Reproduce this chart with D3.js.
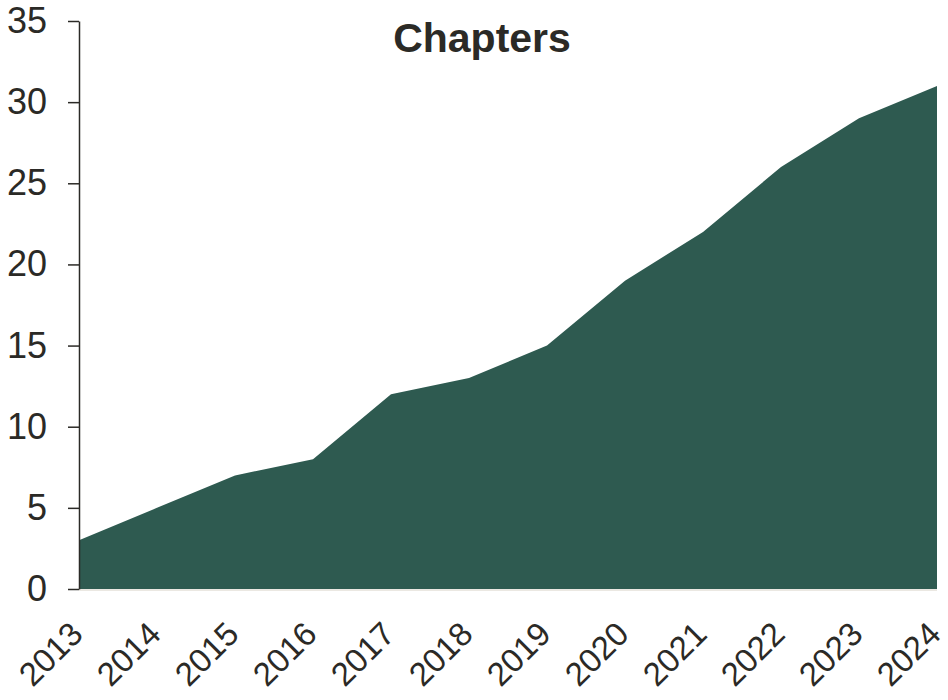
<!DOCTYPE html>
<html>
<head>
<meta charset="utf-8">
<script src="https://cdn.jsdelivr.net/npm/d3@7"></script>
<style>
  html, body { margin: 0; padding: 0; background: #fff; }
  svg text { font-family: "Liberation Sans", Arial, sans-serif; fill: #2b2a26; }
</style>
</head>
<body>
<svg id="chart" width="948" height="700"></svg>
<script>
// Cumulative chapters per year
const years = [2013, 2014, 2015, 2016, 2017, 2018, 2019, 2020, 2021, 2022, 2023, 2024];
const chapters = [3, 5, 7, 8, 12, 13, 15, 19, 22, 26, 29, 31];
const yTicks = [0, 5, 10, 15, 20, 25, 30, 35];
const title = "Chapters";

const data = years.map((y, i) => ({ year: y, value: chapters[i] }));

const svg = d3.select("#chart");
const margin = { left: 79, right: 11, top: 21, bottom: 111 };
const W = 948, H = 700;

const x = d3.scaleLinear()
  .domain(d3.extent(years))
  .range([margin.left, W - margin.right]);
const y = d3.scaleLinear()
  .domain([0, 35])
  .range([H - margin.bottom, margin.top]);

// Filled area
const area = d3.area()
  .x(d => x(d.year))
  .y0(y(0))
  .y1(d => y(d.value));

svg.append("path")
  .datum(data)
  .attr("d", area)
  .attr("fill", "#2e5a50");

// Faint baseline under the area
svg.append("line")
  .attr("x1", x(years[0])).attr("x2", x(years[years.length - 1]))
  .attr("y1", y(0) + 1).attr("y2", y(0) + 1)
  .attr("stroke", "#e4e1d8").attr("stroke-width", 1.5);

// Y axis
const yAxis = svg.append("g")
  .attr("transform", `translate(${margin.left},0)`)
  .call(d3.axisLeft(y).tickValues(yTicks).tickSize(11).tickPadding(21).tickSizeOuter(0));
yAxis.select(".domain").attr("stroke", "#2b2a26").attr("stroke-width", 1.5);
yAxis.selectAll(".tick line").attr("stroke", "#2b2a26").attr("stroke-width", 1.5);
yAxis.selectAll(".tick text")
  .style("font-size", "36px")
  .attr("fill", "#2b2a26");

// X axis labels (no line)
const xAxis = svg.append("g")
  .attr("transform", `translate(0,${y(0)})`)
  .call(d3.axisBottom(x).tickValues(years).tickFormat(d3.format("d")).tickSize(0));
xAxis.select(".domain").remove();
xAxis.selectAll(".tick text")
  .style("font-size", "33px")
  .attr("fill", "#2b2a26")
  .attr("text-anchor", "end")
  .attr("dy", 0)
  .attr("transform", "translate(3,45) rotate(-45)");

// Title
svg.append("text")
  .attr("x", 482)
  .attr("y", 52)
  .attr("text-anchor", "middle")
  .style("font-size", "41px")
  .style("font-weight", "bold")
  .text(title);
</script>
</body>
</html>
